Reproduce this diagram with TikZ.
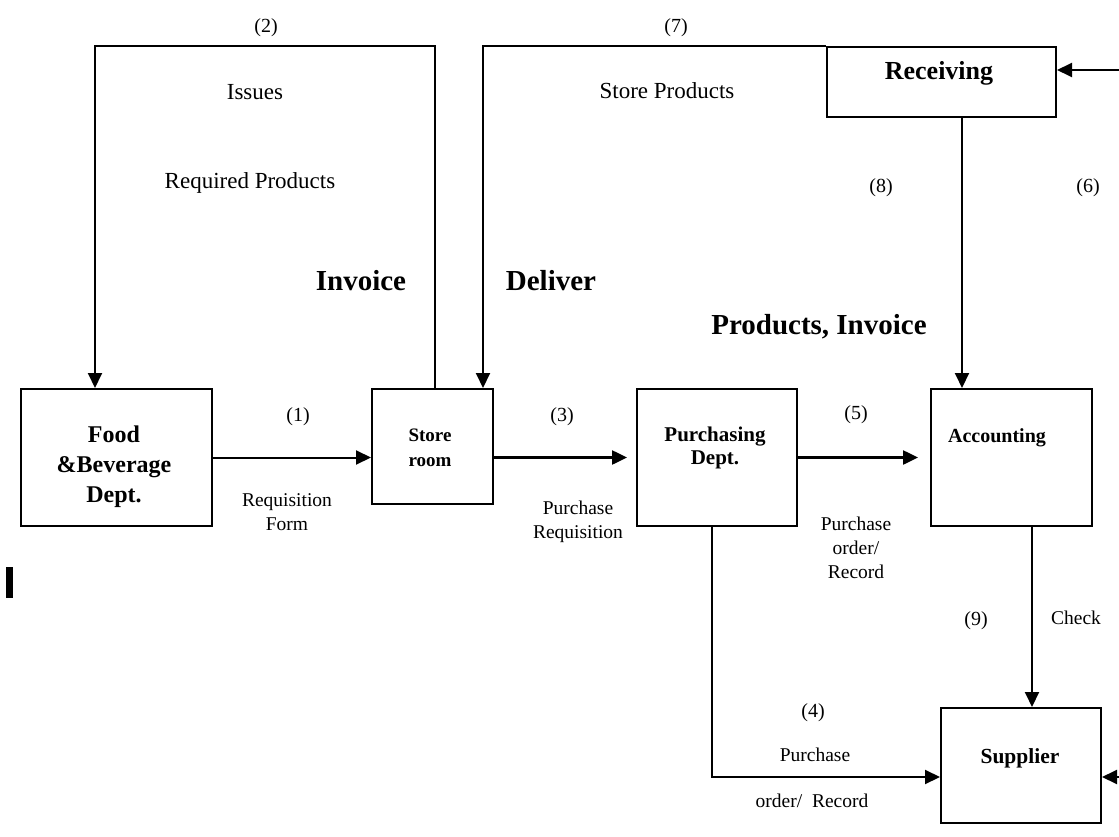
\documentclass[tikz,border=0pt]{standalone}
\usepackage{fontspec}
\setmainfont{Liberation Serif}
\usetikzlibrary{arrows.meta,calc}
\tikzset{
  box/.style={draw, line width=2pt, inner sep=0pt, anchor=north west},
  arr/.style={line width=2pt, -{Triangle[length=15pt,width=14pt]}},
  plain/.style={line width=2pt},
  num/.style={font=\fontsize{20}{24}\selectfont},
  lab/.style={font=\fontsize{23}{28}\selectfont},
  small/.style={font=\fontsize{19.5}{24}\selectfont, align=center},
  big/.style={font=\bfseries\fontsize{29}{34}\selectfont},
  blab/.style={font=\bfseries\fontsize{21}{23}\selectfont, align=center}
}
\begin{document}
\begin{tikzpicture}[x=1pt,y=-1pt]
\useasboundingbox[fill=white] (0,0) rectangle (1119,837);

% boxes
\node[box, minimum width=191pt, minimum height=137pt] (food) at (20,388) {};
\node[box, minimum width=121pt, minimum height=115pt] (store) at (371,388) {};
\node[box, minimum width=160pt, minimum height=137pt] (purch) at (636,388) {};
\node[box, minimum width=161pt, minimum height=137pt] (acct) at (930,388) {};
\node[box, minimum width=229pt, minimum height=70pt] (recv) at (826,46) {};
\node[box, minimum width=160pt, minimum height=115pt] (supp) at (940,707) {};

% box labels
\node[blab, font=\bfseries\fontsize{24}{30}\selectfont] at (114,467) {Food\\\&Beverage\\Dept.};
\node[blab, font=\bfseries\fontsize{19}{25}\selectfont] at (430,448) {Store\\room};
\node[blab] at (715,448) {Purchasing\\Dept.};
\node[blab, font=\bfseries\fontsize{20}{24}\selectfont] at (997,438) {Accounting};
\node[blab, font=\bfseries\fontsize{26}{30}\selectfont] at (939,73) {Receiving};
\node[blab, font=\bfseries\fontsize{21.5}{24}\selectfont] at (1020,758) {Supplier};

% helper coordinates
\coordinate (x2) at (435,0);
\coordinate (t2) at (95,46);
\coordinate (x2b) at (95,0);
\coordinate (x7) at (483,0);
\coordinate (x8) at (962,0);
\coordinate (x9) at (1032,0);
\coordinate (x4) at (712,0);
\coordinate (y4) at (0,777);
\coordinate (e1) at (1119,70);
\coordinate (e2) at (1119,777);

% connectors
\draw[arr] (food.east) -- (food.east -| store.west);
\draw[arr, line width=2.5pt, shorten >=9pt] (store.east |- purch.west) -- (purch.west);
\draw[arr, line width=2.5pt, shorten >=12pt] (purch.east) -- (acct.west);
\draw[arr] (store.north -| x2) |- (t2) -- (food.north -| x2b);
\draw[arr] (recv.north west) -| (store.north -| x7);
\draw[arr] (recv.south -| x8) -- (acct.north -| x8);
\draw[arr] (acct.south -| x9) -- (supp.north -| x9);
\draw[arr] (purch.south -| x4) |- (supp.west |- y4);
\draw[arr] (e1) -- (recv.east |- e1);
\draw[arr] (e2) -- (supp.east |- e2);
\draw[line width=1pt, black!25] (e1) -- (e2);

% stray mark
\fill (6,567) rectangle (13,598);

% labels
\node[num] at (266,28) {(2)};
\node[lab] at (255,92) {Issues};
\node[lab] at (250,183) {Required Products};
\node[big] at (361,281) {Invoice};
\node[big] at (551,281) {Deliver};
\node[num] at (676,28) {(7)};
\node[lab] at (667,91) {Store Products};
\node[num] at (881,188) {(8)};
\node[num] at (1088,188) {(6)};
\node[big] at (819,327) {Products, Invoice};
\node[num] at (298,417) {(1)};
\node[small] at (287,512) {Requisition\\Form};
\node[num] at (562,417) {(3)};
\node[small] at (578,522) {Purchase\\Requisition};
\node[num] at (856,415) {(5)};
\node[small] at (856,548) {Purchase\\order/\\Record};
\node[num] at (976,621) {(9)};
\node[small] at (1076,618) {Check};
\node[num] at (813,713) {(4)};
\node[small] at (815,755) {Purchase};
\node[small] at (812,801) {order/\ \ Record};
\end{tikzpicture}
\end{document}
